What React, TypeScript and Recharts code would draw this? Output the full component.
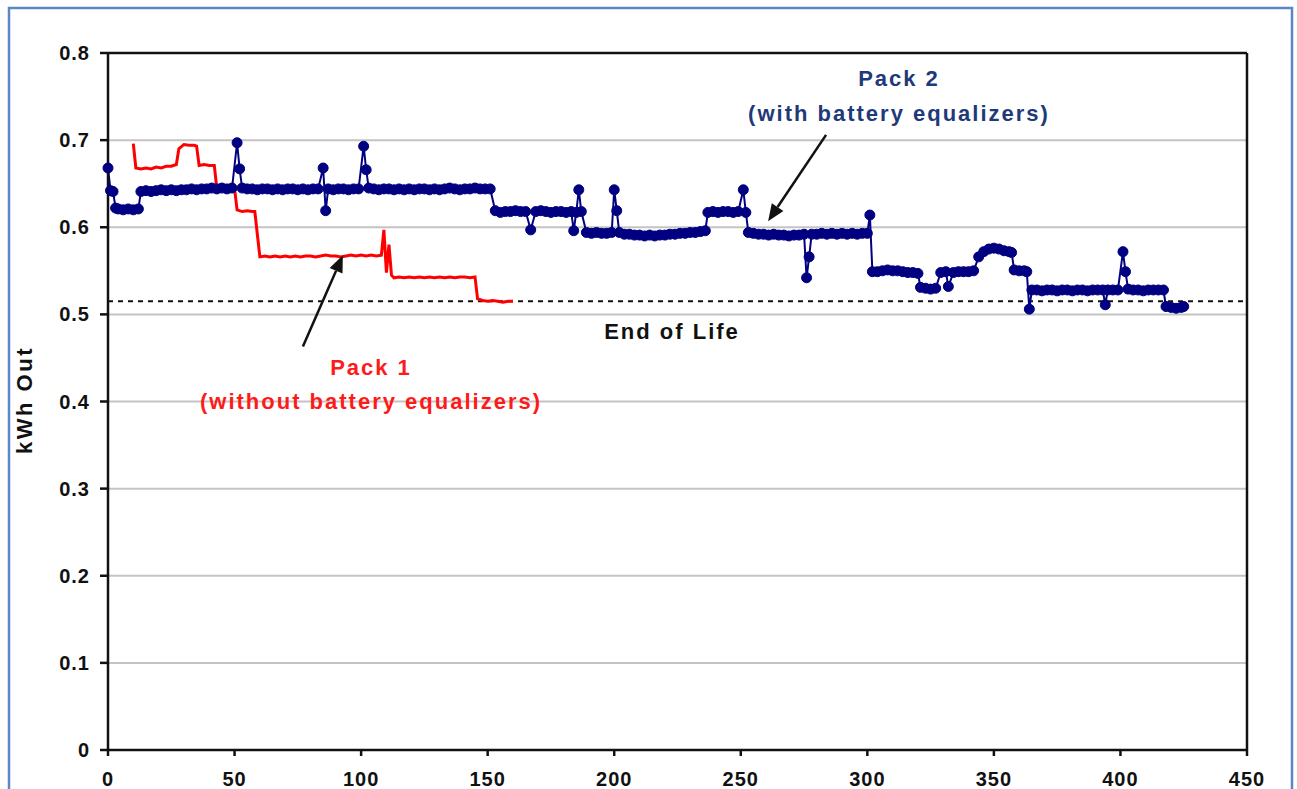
import React from 'react';
import { LineChart, Line, XAxis, YAxis, CartesianGrid, ReferenceLine } from 'recharts';

// Pack 2 (with battery equalizers): cycle number / kWh out
const pack2Cycles = [
  0, 1, 2, 3, 4, 6, 8, 10, 12, 13, 15, 17, 19, 21, 23, 25, 27, 29, 31, 33, 35, 37, 39, 41, 43, 45, 47, 49,
  51, 52, 53, 55, 57, 59, 61, 63, 65, 67, 69, 71, 73, 75, 77, 79, 81, 83, 85, 86, 87, 89, 91, 93, 95, 97, 99,
  101, 102, 103, 105, 107, 109, 111, 113, 115, 117, 119, 121, 123, 125, 127, 129, 131, 133, 135, 137, 139,
  141, 143, 145, 147, 149, 151, 153, 155, 157, 159, 161, 163, 165, 167, 169, 171, 173, 175, 177, 179, 181,
  183, 184, 185, 186, 187, 189, 191, 193, 195, 197, 199, 200, 201, 202, 204, 206, 208, 210, 212, 214, 216,
  218, 220, 222, 224, 226, 228, 230, 232, 234, 236, 237, 239, 241, 243, 245, 247, 249, 251, 252, 253, 255,
  257, 259, 261, 263, 265, 267, 269, 271, 273, 275, 276, 277, 278, 280, 282, 284, 286, 288, 290, 292, 294,
  296, 298, 300, 301, 302, 304, 306, 308, 310, 312, 314, 316, 318, 320, 321, 323, 325, 327, 329, 331, 332,
  334, 336, 338, 340, 342, 344, 346, 348, 350, 352, 354, 356, 357, 358, 360, 362, 363, 364, 365, 367, 369,
  371, 373, 375, 377, 379, 381, 383, 385, 387, 389, 391, 393, 394, 395, 397, 399, 401, 402, 403, 405, 407,
  409, 411, 413, 415, 417, 418, 420, 422, 424, 425,
];
const pack2Kwh = [
  0.668, 0.642, 0.641, 0.622, 0.621, 0.62, 0.621, 0.62, 0.621, 0.641, 0.642, 0.641, 0.642, 0.643, 0.642, 0.643,
  0.642, 0.643, 0.643, 0.644, 0.643, 0.644, 0.644, 0.645, 0.644, 0.645, 0.644, 0.645,
  0.697, 0.667, 0.645, 0.644, 0.644, 0.643, 0.644, 0.644, 0.643, 0.644, 0.643, 0.644, 0.644, 0.643, 0.644,
  0.643, 0.644, 0.644, 0.668, 0.619, 0.644, 0.643, 0.644, 0.644, 0.643, 0.644, 0.644,
  0.693, 0.666, 0.645, 0.644, 0.643, 0.644, 0.644, 0.643, 0.644, 0.643, 0.644, 0.643, 0.644, 0.644, 0.643,
  0.644, 0.643, 0.644, 0.645, 0.644, 0.643,
  0.644, 0.644, 0.645, 0.644, 0.644, 0.644, 0.619, 0.617, 0.618, 0.618, 0.619, 0.618, 0.618, 0.597, 0.618,
  0.619, 0.618, 0.617, 0.618, 0.618, 0.617,
  0.618, 0.596, 0.617, 0.643, 0.618, 0.594, 0.593, 0.594, 0.593, 0.593, 0.594, 0.643, 0.619, 0.594, 0.592,
  0.592, 0.591, 0.591, 0.59, 0.591, 0.59,
  0.591, 0.591, 0.592, 0.592, 0.593, 0.593, 0.594, 0.594, 0.595, 0.596, 0.617, 0.618, 0.617, 0.618, 0.618,
  0.617, 0.618, 0.643, 0.617, 0.594, 0.593,
  0.592, 0.592, 0.591, 0.592, 0.591, 0.591, 0.59, 0.591, 0.591, 0.592, 0.542, 0.566, 0.592, 0.592, 0.593,
  0.592, 0.593, 0.592, 0.593, 0.592, 0.593,
  0.592, 0.593, 0.593, 0.614, 0.549, 0.549, 0.55, 0.551, 0.55, 0.55, 0.549, 0.548, 0.548, 0.547, 0.531, 0.53,
  0.529, 0.53, 0.548, 0.549, 0.532,
  0.548, 0.549, 0.549, 0.549, 0.55, 0.566, 0.572, 0.575, 0.576, 0.575, 0.573, 0.572, 0.571, 0.551, 0.55, 0.55,
  0.549, 0.506, 0.528, 0.528, 0.527,
  0.528, 0.528, 0.527, 0.528, 0.528, 0.527, 0.528, 0.528, 0.527, 0.528, 0.528, 0.528, 0.511, 0.528, 0.528,
  0.528, 0.572, 0.549, 0.529, 0.528, 0.528,
  0.527, 0.528, 0.528, 0.528, 0.528, 0.509, 0.508, 0.507, 0.508, 0.509,
];

// Pack 1 (without battery equalizers)
const pack1Cycles = [
  10, 11, 13, 15, 17, 19, 21, 23, 25, 27, 28, 30, 32, 34, 35, 36, 38, 40, 42, 43, 45, 47, 49, 50, 51, 53, 55,
  57, 58, 60, 62, 64, 66, 68, 70, 72, 74, 76, 78, 80, 82, 84, 86, 88, 90, 92, 94, 96, 98, 100, 102, 104, 106,
  108, 109, 110, 111, 112, 113, 115, 117, 119, 121, 123, 125, 127, 129, 131, 133, 135, 137, 139, 141, 143,
  145, 146, 148, 150, 152, 154, 156, 158, 160,
];
const pack1Kwh = [
  0.696, 0.668, 0.667, 0.668, 0.667, 0.669, 0.668, 0.67, 0.67, 0.672, 0.69, 0.695, 0.694, 0.694, 0.693, 0.671,
  0.672, 0.671, 0.671, 0.644, 0.644, 0.644, 0.644, 0.644, 0.62, 0.618, 0.619,
  0.618, 0.618, 0.566, 0.567, 0.566, 0.567, 0.566, 0.567, 0.566, 0.567, 0.566, 0.567, 0.567, 0.566, 0.567,
  0.568, 0.567, 0.567, 0.566, 0.567, 0.568, 0.567, 0.568, 0.567, 0.568, 0.567,
  0.568, 0.597, 0.548, 0.58, 0.545, 0.542, 0.543, 0.542, 0.543, 0.542, 0.543, 0.542, 0.543, 0.542, 0.543,
  0.542, 0.543, 0.542, 0.543, 0.543, 0.542,
  0.543, 0.518, 0.516, 0.515, 0.516, 0.515, 0.514, 0.515, 0.515,
];

const xTicks = [0, 50, 100, 150, 200, 250, 300, 350, 400, 450];
const yTicks = [0, 0.1, 0.2, 0.3, 0.4, 0.5, 0.6, 0.7, 0.8];
const endOfLife = 0.515;

const pack1Data = pack1Cycles.map((x, i) => ({ x, y: pack1Kwh[i] }));
const pack2Data = pack2Cycles.map((x, i) => ({ x, y: pack2Kwh[i] }));

const FONT = '"Liberation Sans", Arial, sans-serif';

const Arrow = (props: any) => {
  const { x1, y1, x2, y2 } = props;
  const ang = Math.atan2(y2 - y1, x2 - x1);
  const len = 17;
  const half = 7;
  const bx = x2 - len * Math.cos(ang);
  const by = y2 - len * Math.sin(ang);
  const px = -Math.sin(ang) * half;
  const py = Math.cos(ang) * half;
  return (
    <g>
      <line x1={x1} y1={y1} x2={bx} y2={by} stroke="#111" strokeWidth={2.5} />
      <polygon points={`${x2},${y2} ${bx + px},${by + py} ${bx - px},${by - py}`} fill="#111" />
    </g>
  );
};

const tickStyle = { fill: '#111', fontSize: 20, fontWeight: 'bold', fontFamily: FONT, letterSpacing: 1 };

export default function App() {
  return (
    <div style={{ position: 'absolute', left: 0, top: 0, width: 1297, height: 789, background: '#fff' }}>
      <LineChart width={1297} height={789} margin={{ top: 53, right: 50, left: 48, bottom: 0 }}>
        <rect x={9} y={8} width={1283} height={800} fill="none" stroke="#5b87c9" strokeWidth={2.5} />
        <CartesianGrid vertical={false} stroke="#c4c4c4" strokeWidth={2} />
        <XAxis
          type="number"
          dataKey="x"
          domain={[0, 450]}
          ticks={xTicks}
          interval={0}
          height={39}
          tickSize={6}
          tickMargin={16}
          stroke="#111"
          strokeWidth={2.5}
          tick={tickStyle}
          allowDuplicatedCategory={false}
        />
        <YAxis
          type="number"
          dataKey="y"
          domain={[0, 0.8]}
          ticks={yTicks}
          interval={0}
          width={60}
          tickSize={8}
          tickMargin={10}
          stroke="#111"
          strokeWidth={2.5}
          tick={tickStyle}
          tickFormatter={(v: number) => (v === 0 ? '0' : v.toFixed(1))}
        />
        <ReferenceLine y={0.8} stroke="#111" strokeWidth={2.5} />
        <ReferenceLine x={450} stroke="#111" strokeWidth={2.5} />
        <ReferenceLine y={endOfLife} stroke="#111" strokeWidth={2} strokeDasharray="5 5" />
        <Line
          data={pack1Data}
          dataKey="y"
          type="linear"
          stroke="#ff0000"
          strokeWidth={3}
          dot={false}
          isAnimationActive={false}
        />
        <Line
          data={pack2Data}
          dataKey="y"
          type="linear"
          stroke="#000080"
          strokeWidth={2}
          dot={{ r: 5, fill: '#000080', stroke: '#000080', strokeWidth: 1 }}
          isAnimationActive={false}
        />
        <ReferenceLine
          segment={[{ x: 283.7, y: 0.706 }, { x: 260.8, y: 0.607 }]}
          shape={(p: any) => <Arrow {...p} />}
        />
        <ReferenceLine
          segment={[{ x: 77, y: 0.463 }, { x: 92.8, y: 0.568 }]}
          shape={(p: any) => <Arrow {...p} />}
        />
        <g fontFamily={FONT} fontWeight="bold" fontSize={22} letterSpacing={2} textAnchor="middle">
          <text x={899} y={86} fill="#1f3a78">Pack 2</text>
          <text x={899} y={121} fill="#1f3a78">(with battery equalizers)</text>
          <text x={371} y={375} fill="#ff1a1a">Pack 1</text>
          <text x={371} y={409} fill="#ff1a1a">(without battery equalizers)</text>
          <text x={672} y={339} fill="#111">End of Life</text>
          <text x={32} y={400} fill="#111" transform="rotate(-90 32 400)" letterSpacing={2.5}>kWh Out</text>
        </g>
      </LineChart>
    </div>
  );
}
